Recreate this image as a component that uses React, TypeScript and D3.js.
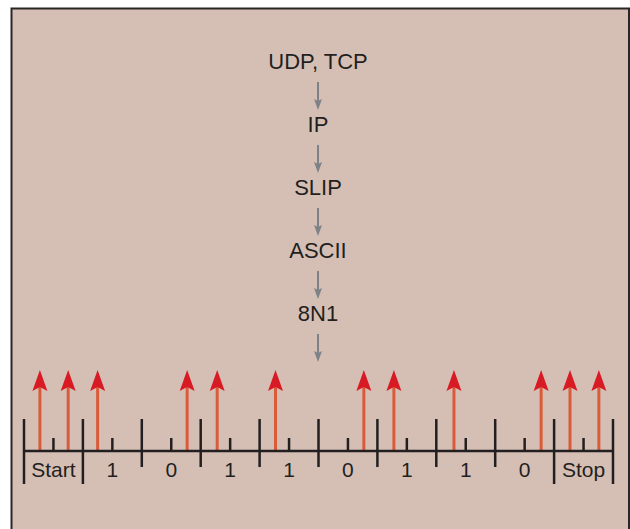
import React from "react";
import * as d3 from "d3";

const layers = ["UDP, TCP", "IP", "SLIP", "ASCII", "8N1"];
const bitLabels = ["Start", "1", "0", "1", "1", "0", "1", "1", "0", "Stop"];
const edges = [0.27, 0.75, 1.25, 2.77, 3.28, 4.27, 5.77, 6.28, 7.3, 8.78, 9.27, 9.76];
const longTicks = [0, 1, 9, 10];

export default function App() {
  const W = 630, H = 529;
  const x = d3.scaleLinear().domain([0, 10]).range([24, 613]);
  const y = d3.scalePoint<string>().domain(layers).range([61, 313]);
  const base = 451;
  const ink = "#231f20";
  const gray = "#7d8287";
  const font = "'Liberation Sans', Arial, Helvetica, sans-serif";
  // dir = 1 : pointing up (tip above), dir = -1 : pointing down (tip below)
  const arrowHead = (cx: number, tip: number, w: number, h: number, notch: number, dir: number) =>
    `M${cx},${tip} L${cx + w / 2},${tip + dir * h} L${cx},${tip + dir * (h - notch)} L${cx - w / 2},${tip + dir * h} Z`;
  const layerArrows = layers.map((l) => (y(l) as number));
  return (
    <svg width={W} height={H} style={{ position: "absolute", left: 0, top: 0 }}>
      <rect x={0} y={0} width={W} height={H} fill="#ffffff" />
      <rect x={11} y={8} width={618} height={H} fill="#d5bfb4" />
      <path d={`M11.5,${H} L11.5,8.5 L629,8.5 L629,${H}`} fill="none" stroke="#2b2626" strokeWidth={2} />
      {layers.map((l) => (
        <text key={l} x={318} y={(y(l) as number) + 8} textAnchor="middle" fontFamily={font} fontSize={22} fill={ink}>
          {l}
        </text>
      ))}
      {layerArrows.map((cy, i) => (
        <g key={i}>
          <line x1={318} x2={318} y1={cy + 21} y2={cy + 43} stroke={gray} strokeWidth={2} />
          <path d={arrowHead(318, cy + 49, 8, 11, 2, -1)} fill={gray} />
        </g>
      ))}
      {edges.map((e, i) => (
        <g key={i}>
          <line x1={x(e)} x2={x(e)} y1={base} y2={386} stroke="#d95b3a" strokeWidth={3} />
          <path d={arrowHead(x(e), 370, 15, 21, 4, 1)} fill="#d81a24" />
        </g>
      ))}
      <line x1={x(0)} x2={x(10)} y1={base} y2={base} stroke={ink} strokeWidth={2.5} />
      {d3.range(0, 11).map((i) => (
        <line key={"t" + i} x1={x(i)} x2={x(i)} y1={419} y2={longTicks.includes(i) ? 484 : 467} stroke={ink} strokeWidth={2.5} />
      ))}
      {d3.range(0, 10).map((i) => (
        <line key={"s" + i} x1={x(i + 0.5)} x2={x(i + 0.5)} y1={438} y2={base} stroke={ink} strokeWidth={2.5} />
      ))}
      {bitLabels.map((b, i) => (
        <text key={"b" + i} x={x(i + 0.5)} y={477} textAnchor="middle" fontFamily={font} fontSize={21} fill={ink}>
          {b}
        </text>
      ))}
    </svg>
  );
}
